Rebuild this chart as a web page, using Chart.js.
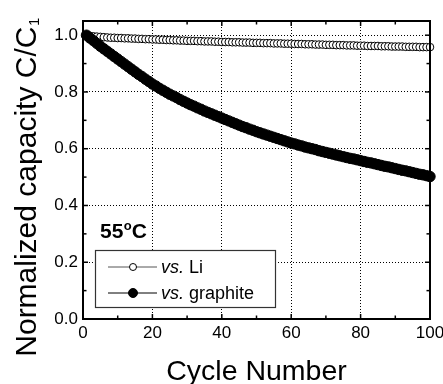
<!DOCTYPE html>
<html>
<head>
<meta charset="utf-8">
<script src="https://cdn.jsdelivr.net/npm/chart.js@4.4.1/dist/chart.umd.min.js"></script>
<style>
  html, body { margin: 0; padding: 0; background: #fff; }
  canvas { display: block; }
</style>
</head>
<body>
<canvas id="c" width="443" height="384"></canvas>
<script>
const cycles = [1,2,3,4,5,6,7,8,9,10,11,12,13,14,15,16,17,18,19,20,
  21,22,23,24,25,26,27,28,29,30,31,32,33,34,35,36,37,38,39,40,
  41,42,43,44,45,46,47,48,49,50,51,52,53,54,55,56,57,58,59,60,
  61,62,63,64,65,66,67,68,69,70,71,72,73,74,75,76,77,78,79,80,
  81,82,83,84,85,86,87,88,89,90,91,92,93,94,95,96,97,98,99,100];

const vsLi = [1.000,0.998,0.996,0.995,0.994,0.993,0.992,0.991,0.991,0.990,
  0.990,0.989,0.989,0.988,0.988,0.987,0.987,0.986,0.986,0.985,
  0.985,0.984,0.984,0.983,0.983,0.982,0.982,0.981,0.981,0.980,
  0.980,0.980,0.979,0.979,0.978,0.978,0.978,0.977,0.977,0.976,
  0.976,0.976,0.975,0.975,0.975,0.974,0.974,0.974,0.973,0.973,
  0.973,0.972,0.972,0.972,0.971,0.971,0.971,0.970,0.970,0.970,
  0.969,0.969,0.969,0.968,0.968,0.968,0.967,0.967,0.967,0.966,
  0.966,0.966,0.965,0.965,0.965,0.964,0.964,0.964,0.963,0.963,
  0.963,0.962,0.962,0.962,0.962,0.961,0.961,0.961,0.960,0.960,
  0.960,0.960,0.959,0.959,0.959,0.959,0.958,0.958,0.958,0.958];

const vsGraphite = [1.000,0.990,0.981,0.971,0.961,0.952,0.943,0.934,0.925,0.916,
  0.907,0.898,0.889,0.880,0.871,0.862,0.854,0.845,0.837,0.828,
  0.821,0.813,0.806,0.799,0.792,0.786,0.780,0.773,0.767,0.761,
  0.755,0.750,0.744,0.739,0.733,0.728,0.723,0.718,0.713,0.708,
  0.703,0.698,0.693,0.688,0.683,0.678,0.674,0.669,0.665,0.660,
  0.656,0.652,0.648,0.644,0.640,0.636,0.632,0.628,0.624,0.620,
  0.617,0.613,0.610,0.606,0.603,0.600,0.597,0.593,0.590,0.587,
  0.584,0.581,0.578,0.575,0.572,0.569,0.566,0.564,0.561,0.558,
  0.555,0.552,0.550,0.547,0.544,0.541,0.538,0.536,0.533,0.530,
  0.527,0.524,0.522,0.519,0.516,0.513,0.510,0.508,0.505,0.502];

const seriesLabels = ['vs. Li', 'vs. graphite'];
const xTicks = [0, 20, 40, 60, 80, 100];
const xMinorTicks = [10, 30, 50, 70, 90];
const yTicks = [0.0, 0.2, 0.4, 0.6, 0.8, 1.0];
const yTickLabels = ['0.0', '0.2', '0.4', '0.6', '0.8', '1.0'];
const yMinorTicks = [0.1, 0.3, 0.5, 0.7, 0.9];
const xTitle = 'Cycle Number';
const yTitle = 'Normalized capacity C/C';
const yTitleSub = '1';
const tempLabel = ['55', 'o', 'C'];

const FONT = "'Liberation Sans', Arial, Helvetica, sans-serif";

const decorPlugin = {
  id: 'decor',
  afterDraw(chart) {
    const { ctx, chartArea: a, scales: { x, y } } = chart;
    ctx.save();
    ctx.strokeStyle = '#000';
    ctx.lineWidth = 1.5;
    const tick = (x1, y1, x2, y2) => { ctx.beginPath(); ctx.moveTo(x1, y1); ctx.lineTo(x2, y2); ctx.stroke(); };
    xTicks.forEach(v => { const p = x.getPixelForValue(v); tick(p, a.bottom, p, a.bottom - 5); tick(p, a.top, p, a.top + 5); });
    xMinorTicks.forEach(v => { const p = x.getPixelForValue(v); tick(p, a.bottom, p, a.bottom - 3.5); tick(p, a.top, p, a.top + 3.5); });
    yTicks.forEach(v => { const p = y.getPixelForValue(v); tick(a.left, p, a.left + 5, p); tick(a.right, p, a.right - 5, p); });
    yMinorTicks.forEach(v => { const p = y.getPixelForValue(v); tick(a.left, p, a.left + 3.5, p); tick(a.right, p, a.right - 3.5, p); });
    // frame
    ctx.lineWidth = 2;
    ctx.strokeRect(a.left, a.top, a.right - a.left, a.bottom - a.top);

    // temperature label
    ctx.fillStyle = '#000';
    ctx.textBaseline = 'alphabetic';
    ctx.textAlign = 'left';
    let tx = 100, ty = 238;
    ctx.font = 'bold 21px ' + FONT;
    ctx.fillText(tempLabel[0], tx, ty); tx += ctx.measureText(tempLabel[0]).width + 0.5;
    ctx.font = 'bold 13px ' + FONT;
    ctx.fillText(tempLabel[1], tx, ty - 8); tx += ctx.measureText(tempLabel[1]).width;
    ctx.font = 'bold 21px ' + FONT;
    ctx.fillText(tempLabel[2], tx, ty);

    // legend
    const lx = 95.5, ly = 250.5, lw = 180, lh = 57;
    ctx.fillStyle = '#fff';
    ctx.fillRect(lx, ly, lw, lh);
    ctx.strokeStyle = '#333';
    ctx.lineWidth = 1.2;
    ctx.strokeRect(lx, ly, lw, lh);
    const rows = [267, 293];
    seriesLabels.forEach((label, r) => {
      const ds = chart.data.datasets.find(d => d.label === label);
      const ry = rows[r];
      ctx.strokeStyle = ds.legendLine;
      ctx.lineWidth = 1;
      ctx.beginPath(); ctx.moveTo(108, ry); ctx.lineTo(157, ry); ctx.stroke();
      ctx.beginPath();
      ctx.arc(133, ry, ds.legendRadius, 0, Math.PI * 2);
      ctx.fillStyle = ds.pointBackgroundColor;
      ctx.fill();
      ctx.strokeStyle = '#000';
      ctx.lineWidth = 1;
      ctx.stroke();
      const sp = label.indexOf(' ');
      const it = label.slice(0, sp), rest = label.slice(sp);
      ctx.fillStyle = '#000';
      ctx.font = 'italic 18px ' + FONT;
      ctx.fillText(it, 161, ry + 6);
      const w = ctx.measureText(it).width;
      ctx.font = '18px ' + FONT;
      ctx.fillText(rest, 161 + w, ry + 6);
    });

    // x title
    ctx.font = '28.5px ' + FONT;
    ctx.textAlign = 'center';
    ctx.fillText(xTitle, (a.left + a.right) / 2, 380);

    // y title with subscript
    ctx.save();
    ctx.translate(36, 187.5);
    ctx.rotate(-Math.PI / 2);
    ctx.textAlign = 'left';
    ctx.font = '30px ' + FONT;
    const w1 = ctx.measureText(yTitle).width;
    ctx.font = '15px ' + FONT;
    const w2 = ctx.measureText(yTitleSub).width;
    const start = -(w1 + w2) / 2;
    ctx.font = '30px ' + FONT;
    ctx.fillText(yTitle, start, 0);
    ctx.font = '15px ' + FONT;
    ctx.fillText(yTitleSub, start + w1 + 0.5, 3);
    ctx.restore();

    ctx.restore();
  }
};

new Chart(document.getElementById('c'), {
  type: 'scatter',
  data: {
    datasets: [
      {
        label: seriesLabels[1],
        data: cycles.map((c, i) => ({ x: c, y: vsGraphite[i] })),
        showLine: true,
        borderColor: '#000',
        borderWidth: 1,
        pointRadius: 5.2,
        pointBorderWidth: 1,
        pointBackgroundColor: '#000',
        pointBorderColor: '#000',
        legendLine: '#000',
        legendRadius: 4.5,
        clip: false,
        order: 0
      },
      {
        label: seriesLabels[0],
        data: cycles.map((c, i) => ({ x: c, y: vsLi[i] })),
        showLine: true,
        borderColor: '#000',
        borderWidth: 1,
        pointRadius: 3.8,
        pointBorderWidth: 1,
        pointBackgroundColor: '#fff',
        pointBorderColor: '#000',
        legendLine: '#555',
        legendRadius: 3.5,
        clip: false,
        order: 1
      }
    ]
  },
  options: {
    responsive: false,
    animation: false,
    devicePixelRatio: 1,
    layout: { padding: { left: 0, right: 13, top: 21, bottom: 0 } },
    plugins: { legend: { display: false }, tooltip: { enabled: false } },
    scales: {
      x: {
        type: 'linear',
        min: 0,
        max: 100,
        afterBuildTicks: s => { s.ticks = xTicks.map(v => ({ value: v })); },
        afterFit: s => { s.height = 65; s.paddingLeft = 0; s.paddingRight = 0; },
        ticks: {
          color: '#000',
          font: { family: FONT, size: 17 },
          padding: 4,
          maxRotation: 0,
          callback: v => String(v)
        },
        grid: { color: '#000', lineWidth: 1, drawTicks: false },
        border: { display: false, dash: [1, 2] },
        title: { display: false }
      },
      y: {
        type: 'linear',
        min: 0,
        max: 1.05,
        afterBuildTicks: s => { s.ticks = yTicks.map(v => ({ value: v })); },
        afterFit: s => { s.width = 83; s.paddingTop = 0; s.paddingBottom = 0; },
        ticks: {
          color: '#000',
          font: { family: FONT, size: 17 },
          padding: 5,
          callback: (v) => { const i = yTicks.findIndex(t => Math.abs(t - v) < 1e-9); return i >= 0 ? yTickLabels[i] : ''; }
        },
        grid: { color: '#000', lineWidth: 1, drawTicks: false },
        border: { display: false, dash: [1, 2] },
        title: { display: false }
      }
    }
  },
  plugins: [decorPlugin]
});
</script>
</body>
</html>
